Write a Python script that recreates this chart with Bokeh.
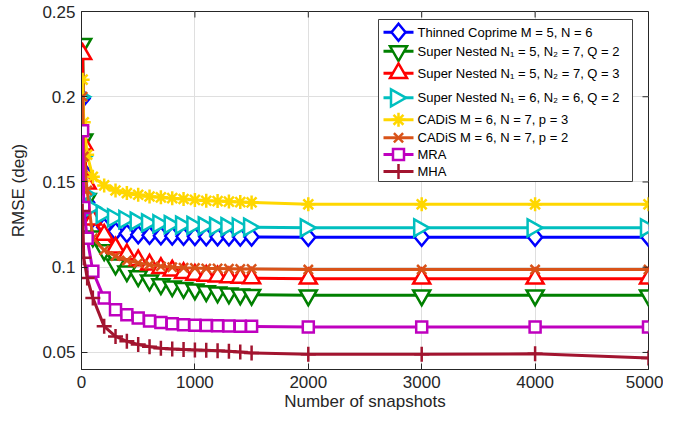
import numpy as np
from bokeh.plotting import figure
from bokeh.models import FixedTicker, Range1d, ColumnDataSource
from bokeh.core.properties import value
from bokeh.embed import file_html
from bokeh.resources import INLINE

# ---------------- data ----------------
snapshots = [10, 20, 50, 100, 200, 300, 400, 500, 600, 700, 800, 900, 1000,
             1100, 1200, 1300, 1400, 1500, 2000, 3000, 4000, 5000]

thinned_coprime = [0.199, 0.156, 0.138, 0.129, 0.1235, 0.121, 0.1198, 0.119, 0.1187, 0.1185,
                   0.1183, 0.1181, 0.118, 0.1179, 0.1178, 0.1178, 0.1177, 0.1177,
                   0.1176, 0.1176, 0.1176, 0.1176]
super_nested_572 = [0.231, 0.175, 0.140, 0.118, 0.110, 0.1016, 0.0976, 0.0947, 0.0922, 0.0900,
                    0.0888, 0.0878, 0.0870, 0.0860, 0.0852, 0.0846, 0.0841, 0.0838,
                    0.0835, 0.0835, 0.0835, 0.0835]
super_nested_573 = [0.225, 0.172, 0.149, 0.128, 0.119, 0.1115, 0.1075, 0.104, 0.1015, 0.0995,
                    0.098, 0.0965, 0.0955, 0.095, 0.0945, 0.094, 0.0937, 0.0935,
                    0.0933, 0.0933, 0.0933, 0.0933]
super_nested_662 = [0.200, 0.165, 0.143, 0.135, 0.131, 0.129, 0.128, 0.127, 0.126, 0.1255,
                    0.125, 0.1247, 0.1245, 0.1243, 0.124, 0.1238, 0.1236, 0.1235,
                    0.1231, 0.1231, 0.1231, 0.1231]
cadis_p3 = [0.210, 0.185, 0.166, 0.153, 0.148, 0.145, 0.1435, 0.1425, 0.1415, 0.141,
            0.1405, 0.140, 0.1395, 0.139, 0.1388, 0.1385, 0.1382, 0.138,
            0.1369, 0.1369, 0.1369, 0.1369]
cadis_p2 = [0.200, 0.165, 0.145, 0.117, 0.110, 0.1065, 0.104, 0.1025, 0.1015, 0.1005,
            0.1000, 0.0997, 0.0995, 0.0993, 0.0992, 0.0991, 0.099, 0.099,
            0.0986, 0.0986, 0.0986, 0.0986]
mra = [0.180, 0.135, 0.117, 0.0976, 0.0819, 0.0751, 0.0721, 0.0702, 0.0685, 0.0675,
       0.0668, 0.0663, 0.066, 0.0658, 0.0656, 0.0655, 0.0654, 0.0653,
       0.0649, 0.0649, 0.0649, 0.0649]
mha = [0.133, 0.1055, 0.0937, 0.082, 0.0653, 0.0594, 0.0565, 0.0547, 0.0533, 0.0525,
       0.052, 0.0517, 0.0515, 0.0513, 0.051, 0.0507, 0.0502, 0.0497,
       0.049, 0.049, 0.0492, 0.0467]

labels = [
    "Thinned Coprime M = 5, N = 6",
    "Super Nested N\u2081 = 5, N\u2082 = 7, Q = 2",
    "Super Nested N\u2081 = 5, N\u2082 = 7, Q = 3",
    "Super Nested N\u2081 = 6, N\u2082 = 6, Q = 2",
    "CADiS M = 6, N = 7, p = 3",
    "CADiS M = 6, N = 7, p = 2",
    "MRA",
    "MHA",
]

x_ticks = [0, 1000, 2000, 3000, 4000, 5000]
y_ticks = [0.05, 0.1, 0.15, 0.2, 0.25]
y_tick_labels = ["0.05", "0.1", "0.15", "0.2", "0.25"]

# ---------------- styling / layout ----------------
FONT = "Liberation Sans"
AX = "#262626"
X0, X1, Y0, Y1 = 0, 5000, 0.04, 0.25
FRAME_W, FRAME_H = 567, 358
PX_X = (X1 - X0) / FRAME_W      # data units per screen pixel
PX_Y = (Y1 - Y0) / FRAME_H
TICK_LEN = 6

# marker outlines in screen pixels (x right, y up)
SHAPES = {
    "diamond": [(-7.0, 0.0), (0.0, 8.5), (7.0, 0.0), (0.0, -8.5)],
    "right_triangle": [(-7.5, 8.5), (7.5, 0.0), (-7.5, -8.5)],
}

series = [
    (thinned_coprime, "#0000FF", "diamond", 0),
    (super_nested_572, "#008000", "inverted_triangle", 17),
    (super_nested_573, "#FF0000", "triangle", 17),
    (super_nested_662, "#00BFBF", "right_triangle", 0),
    (cadis_p3, "#FFD700", "asterisk", 14),
    (cadis_p2, "#D95319", "x", 13),
    (mra, "#BF00BF", "square", 11),
    (mha, "#A2142F", "cross", 15),
]


def outlines(xs, ys, shape, kx, ky):
    pts = SHAPES[shape]
    return ([[x + dx * kx for dx, dy in pts] for x in xs],
            [[y + dy * ky for dx, dy in pts] for y in ys])


p = figure(width=663, height=413, output_backend="svg", toolbar_location=None, tools="",
           x_range=Range1d(X0, X1), y_range=Range1d(Y0, Y1),
           min_border_left=81, min_border_right=15, min_border_top=11, min_border_bottom=44)

for ys, color, marker, size in series:
    src = ColumnDataSource(dict(x=snapshots, y=ys))
    p.line("x", "y", source=src, line_color=color, line_width=3)
    if marker in SHAPES:
        pxs, pys = outlines(snapshots, ys, marker, PX_X, PX_Y)
        p.patches(pxs, pys, line_color=color, line_width=2.5, fill_color="white",
                  line_join="miter")
    else:
        p.scatter("x", "y", source=src, marker=marker, size=size, line_color=color,
                  line_width=2.5, fill_color="white", line_join="miter")

# axes
p.xaxis.ticker = FixedTicker(ticks=x_ticks)
p.yaxis.ticker = FixedTicker(ticks=y_ticks)
p.yaxis.major_label_overrides = {t: s for t, s in zip(y_ticks, y_tick_labels)}
p.xaxis.axis_label = "Number of snapshots"
p.yaxis.axis_label = "RMSE (deg)"
for ax in [p.xaxis[0], p.yaxis[0]]:
    ax.major_tick_in = TICK_LEN
    ax.major_tick_out = 0
    ax.minor_tick_in = 0
    ax.minor_tick_out = 0
    ax.axis_line_color = AX
    ax.major_tick_line_color = AX
    ax.major_label_text_font = FONT
    ax.major_label_text_font_size = "17px"
    ax.major_label_text_color = AX
    ax.axis_label_text_font = FONT
    ax.axis_label_text_font_size = "17px"
    ax.axis_label_text_font_style = "normal"
    ax.axis_label_text_color = AX
p.xaxis.major_label_standoff = 6
p.yaxis.major_label_standoff = 6
p.xaxis.axis_label_standoff = 1
p.yaxis.axis_label_standoff = 11

p.xgrid.grid_line_color = "#DFDFDF"
p.ygrid.grid_line_color = "#DFDFDF"
p.outline_line_color = AX

# ---------------- pixel coordinate system of the frame (box ticks + legend) ----------------
p.extra_x_ranges = {"lx": Range1d(0, FRAME_W)}
p.extra_y_ranges = {"ly": Range1d(FRAME_H, 0)}
LG = dict(x_range_name="lx", y_range_name="ly")

# inward ticks on the top and right edges of the box, placed from the tick lists
tx = [(t - X0) / PX_X for t in x_ticks]
p.segment(x0=tx, x1=tx, y0=[0] * len(tx), y1=[TICK_LEN] * len(tx), line_color=AX,
          line_width=1, **LG)
ty = [(Y1 - t) / PX_Y for t in y_ticks]
p.segment(x0=[FRAME_W - TICK_LEN] * len(ty), x1=[FRAME_W] * len(ty), y0=ty, y1=ty,
          line_color=AX, line_width=1, **LG)

# legend
box_left, box_right, box_top, box_bottom = 297, 551, 8, 170
row_y = [20.7, 39.7, 61.7, 86.3, 108.3, 126.3, 143.0, 160.0]
seg_x0, seg_x1, mark_x, text_x = 302, 332, 317, 336

p.quad(left=[box_left], right=[box_right], top=[box_top], bottom=[box_bottom],
       fill_color="white", line_color="#404040", line_width=1, **LG)
for (ys, color, marker, size), ry in zip(series, row_y):
    p.segment(x0=[seg_x0], x1=[seg_x1], y0=[ry], y1=[ry], line_color=color, line_width=3, **LG)
    if marker in SHAPES:
        lxs, lys = outlines([mark_x], [ry], marker, 1.0, -1.0)
        p.patches(lxs, lys, line_color=color, line_width=2.5, fill_color="white",
                  line_join="miter", **LG)
    else:
        p.scatter(x=[mark_x], y=[ry], marker=marker, size=size, line_color=color,
                  line_width=2.5, fill_color="white", line_join="miter", **LG)
p.text(x=[text_x] * len(labels), y=row_y, text=labels, text_font=value(FONT),
       text_font_size="13px", text_baseline="middle", text_align="left",
       text_color="#000000", **LG)

open("out.html", "w").write(file_html(p, INLINE))
